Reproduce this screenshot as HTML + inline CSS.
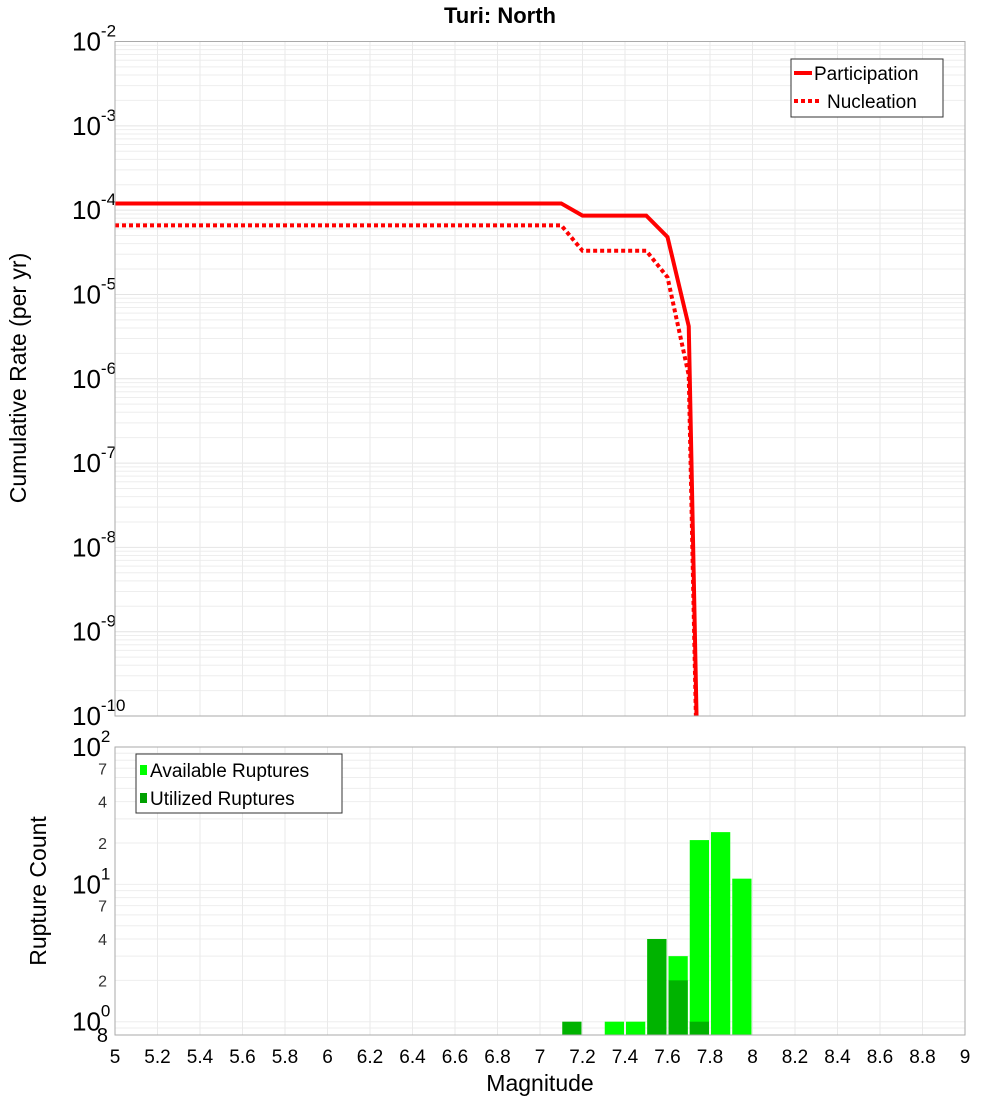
<!DOCTYPE html>
<html><head><meta charset="utf-8"><style>
body{margin:0;background:#fff;}
svg{display:block;font-family:"Liberation Sans","DejaVu Sans",sans-serif;}
</style></head><body>
<svg id="chart" width="1000" height="1100" viewBox="0 0 1000 1100" xmlns="http://www.w3.org/2000/svg">
<text x="500" y="23" text-anchor="middle" font-size="22" font-weight="bold">Turi: North</text>
<g id="topPanel"></g><g id="botPanel"></g>
<text x="540" y="1091" text-anchor="middle" font-size="23">Magnitude</text>
<text transform="translate(26,378) rotate(-90)" text-anchor="middle" font-size="23">Cumulative Rate (per yr)</text>
<text transform="translate(46,891) rotate(-90)" text-anchor="middle" font-size="23">Rupture Count</text>
</svg>
<script>
const mags=[5,7.1,7.2,7.5,7.6,7.7,7.8];
const participation=[1.2e-4,1.2e-4,8.6e-5,8.6e-5,4.8e-5,4.2e-6,1e-18];
const nucleation=[6.6e-5,6.6e-5,3.3e-5,3.3e-5,1.6e-5,1.1e-6,1e-18];
const binCenters=[7.15,7.35,7.45,7.55,7.65,7.75,7.85,7.95];
const available=[0,1,1,4,3,21,24,11];
const utilized=[1,0,0,4,2,1,0,0];
const xTicks=[5,5.2,5.4,5.6,5.8,6,6.2,6.4,6.6,6.8,7,7.2,7.4,7.6,7.8,8,8.2,8.4,8.6,8.8,9];
const topExps=[-2,-3,-4,-5,-6,-7,-8,-9,-10];
const botMinor=[2,4,7,20,40,70];

const NS="http://www.w3.org/2000/svg";
const X0=115,X1=965;
const x=m=>X0+(m-5)/4*(X1-X0);
const TY0=41.5,TY1=716;
const yT=v=>TY0+(-2-Math.log10(v))/8*(TY1-TY0);
const BY0=747,BY1=1035;
const yB=v=>BY1-(Math.log10(v)-Math.log10(0.8))/(2-Math.log10(0.8))*(BY1-BY0);
function mk(p,t,a){const e=document.createElementNS(NS,t);for(const k in a)e.setAttribute(k,a[k]);p.appendChild(e);return e;}
const topG=document.getElementById('topPanel'),botG=document.getElementById('botPanel');
for(let d=-10;d<-2;d++)for(let k=1;k<10;k++){const v=k*Math.pow(10,d);const yy=yT(v);
 const l=mk(topG,'line',{x1:X0,x2:X1,y1:yy,y2:yy,stroke:k==1?'#e4e4e4':'#eeeeee','stroke-width':1});
 
 }
for(const v of [0.8,0.9,1,2,3,4,5,6,7,8,9,10,20,30,40,50,60,70,80,90]){const yy=yB(v);
 const l=mk(botG,'line',{x1:X0,x2:X1,y1:yy,y2:yy,stroke:'#eeeeee','stroke-width':1});
 
 }
xTicks.forEach(t=>{const xx=x(t);
 const a=mk(topG,'line',{x1:xx,x2:xx,y1:TY0,y2:TY1,stroke:'#eaeaea'});
 
 
 const b=mk(botG,'line',{x1:xx,x2:xx,y1:BY0,y2:BY1,stroke:'#eaeaea'});
 
 
 const tl=mk(botG,'text',{x:xx,y:1063,'text-anchor':'middle','font-size':19});tl.textContent=String(t);
 
 });
topExps.forEach(e=>{const yy=yT(Math.pow(10,e));
 const t=mk(topG,'text',{x:72,y:yy+9,'font-size':26});
 
 
 t.textContent='10';const s=mk(t,'tspan',{dy:-14,'font-size':17});s.textContent=String(e);});
[[100,'2'],[10,'1'],[1,'0']].forEach(([v,e])=>{const yy=yB(v);
 const t=mk(botG,'text',{x:72,y:yy+9,'font-size':26});
 
 
 t.textContent='10';const s=mk(t,'tspan',{dy:-14,'font-size':17});s.textContent=e;});
botMinor.forEach(v=>{const t=mk(botG,'text',{x:107,y:yB(v)+6,'text-anchor':'end','font-size':16,fill:'#333'});t.textContent=String(v).charAt(0);
 
 });
{const t=mk(botG,'text',{x:108,y:1042,'text-anchor':'end','font-size':20});t.textContent='8';
 
 }
const cp=mk(topG,'clipPath',{id:'tc'});mk(cp,'rect',{x:X0,y:TY0,width:X1-X0,height:TY1-TY0});
function line(vals,dash,name){const pts=mags.map((m,i)=>x(m)+','+yT(vals[i])).join(' ');
 const a={points:pts,fill:'none',stroke:'#ff0000','stroke-width':4,'clip-path':'url(#tc)'};if(dash)a['stroke-dasharray']='4,3';
 const p=mk(topG,'polyline',a);
 
 }
line(nucleation,true,'nucleation-line');line(participation,false,'participation-line');
binCenters.forEach((c,i)=>{
 if(available[i]>0){const yy=yB(available[i]);const r=mk(botG,'rect',{x:x(c-0.05)+1,y:yy,width:x(c+0.05)-x(c-0.05)-2,height:BY1-yy,fill:'#00ff00'});
  
  }
 if(utilized[i]>0){const yy=yB(utilized[i]);const r=mk(botG,'rect',{x:x(c-0.05)+1,y:yy,width:x(c+0.05)-x(c-0.05)-2,height:BY1-yy,fill:'#00b300'});
  
  }
});
{const f=mk(topG,'rect',{x:X0,y:TY0,width:X1-X0,height:TY1-TY0,fill:'none',stroke:'#aaa'});
 
 
 const g=mk(botG,'rect',{x:X0,y:BY0,width:X1-X0,height:BY1-BY0,fill:'none',stroke:'#aaa'});
 
 }
{const lg=mk(topG,'g',{});
 
 
 mk(lg,'rect',{x:791,y:59,width:152,height:58,fill:'#fff',stroke:'#333'});
 mk(lg,'line',{x1:794,x2:812,y1:73,y2:73,stroke:'#f00','stroke-width':4});
 let t=mk(lg,'text',{x:814,y:80,'font-size':19});t.textContent='Participation';
 mk(lg,'line',{x1:794,x2:822,y1:101,y2:101,stroke:'#f00','stroke-width':4,'stroke-dasharray':'4,3'});
 t=mk(lg,'text',{x:827,y:108,'font-size':19});t.textContent='Nucleation';}
{const lg=mk(botG,'g',{});
 
 
 mk(lg,'rect',{x:136,y:754,width:206,height:59,fill:'#fff',stroke:'#333'});
 mk(lg,'rect',{x:140,y:765,width:7,height:10,fill:'#00ff00'});
 let t=mk(lg,'text',{x:150,y:777,'font-size':19});t.textContent='Available Ruptures';
 mk(lg,'rect',{x:140,y:793,width:7,height:10,fill:'#00a000'});
 t=mk(lg,'text',{x:150,y:805,'font-size':19});t.textContent='Utilized Ruptures';}
</script>
</body></html>
